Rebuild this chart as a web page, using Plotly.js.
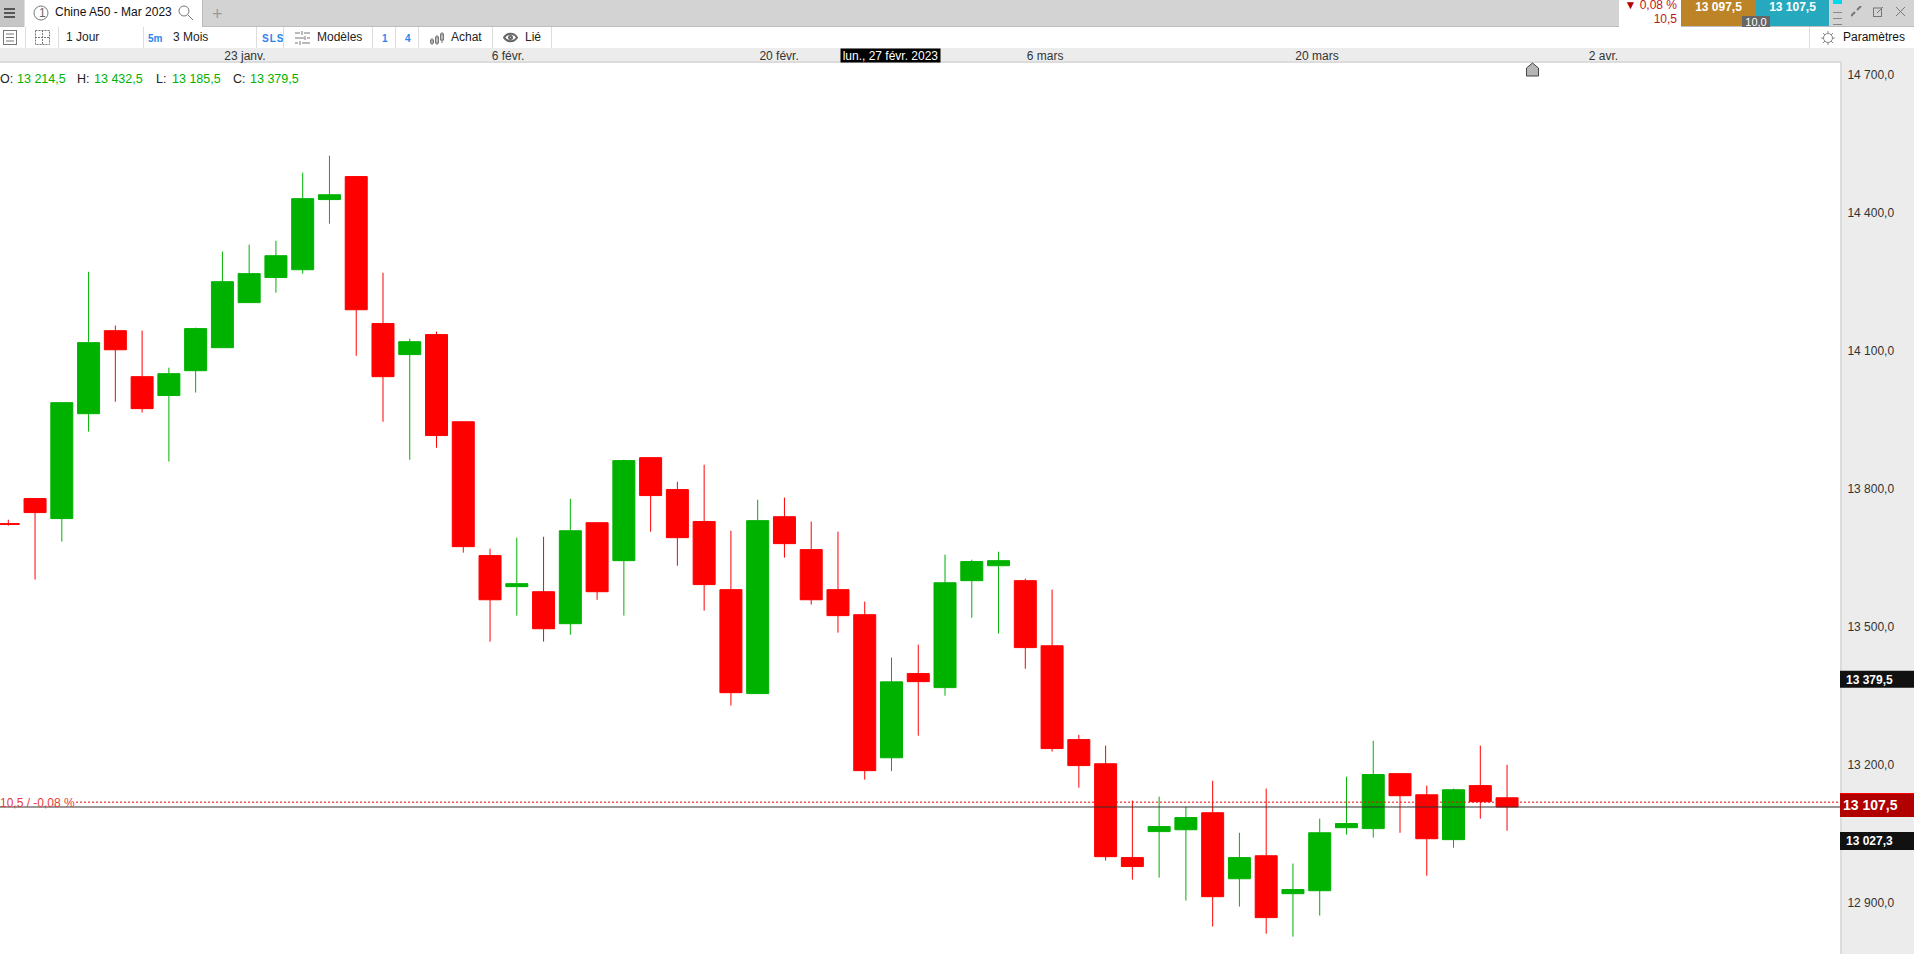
<!DOCTYPE html>
<html>
<head>
<meta charset="utf-8">
<title>Chine A50 - Mar 2023</title>
<script src="https://cdn.plot.ly/plotly-3.0.1.min.js"></script>
<style>
    html, body { margin: 0; padding: 0; background: #fff; overflow: hidden; }
    body { width: 1914px; height: 954px; font: 12px "Liberation Sans", Arial, sans-serif; color: #222; position: relative; }
    #chart1 { position: absolute; left: 0; top: 48px; width: 1914px; height: 906px; }
    .box { position: absolute; }
    .t { position: absolute; white-space: nowrap; line-height: 14px; }
    .sep { position: absolute; top: 27px; width: 1px; height: 21px; background: #ddd; }
    .blue { color: #2a86f0; font-weight: bold; font-size: 10px; }
    svg.i { position: absolute; fill: none; stroke: #777; stroke-width: 1; }
</style>
</head>
<body>
<div class="box" style="left:0;top:0;width:1914px;height:26px;background:#d3d3d3;border-bottom:1px solid #bdbdbd"></div>
<div class="box" style="left:0;top:0;width:24px;height:26px;background:#c6c6c6"></div>
<div class="box" style="left:4px;top:8px;width:11px;height:2px;background:#555;box-shadow:0 4px 0 #555,0 8px 0 #555"></div>
<div class="box" style="left:24px;top:0;width:177px;height:28px;background:#fff;border-right:1px solid #bdbdbd;border-left:1px solid #e0e0e0"></div>
<svg class="i" style="left:33px;top:5px" width="16" height="16"><circle cx="8" cy="8" r="7"/></svg>
<span class="t" style="left:39px;top:6px;color:#666">1</span>
<span class="t" style="left:55px;top:5px;color:#111">Chine A50 - Mar 2023</span>
<svg class="i" style="left:178px;top:5px" width="16" height="16"><circle cx="6" cy="6" r="5"/><path d="M10 10l5 5"/></svg>
<span class="t" style="left:212px;top:4px;color:#999;font-size:18px;line-height:20px">+</span>

<div class="box" style="left:0;top:27px;width:1914px;height:21px;background:#fff;border-bottom:1px solid #ccc"></div>
<svg class="i" style="left:3px;top:30px" width="14" height="15"><rect x=".5" y=".5" width="13" height="14"/><path d="M3 4h8M3 7.5h8M3 11h8"/></svg>
<div class="sep" style="left:25px"></div>
<svg class="i" style="left:35px;top:30px;stroke-dasharray:2 1" width="15" height="15"><rect x=".5" y=".5" width="14" height="14"/><path d="M7.5 0v15M0 7.5h15"/></svg>
<div class="sep" style="left:58px"></div>
<span class="t" style="left:66px;top:30px">1 Jour</span>
<div class="sep" style="left:143px"></div>
<span class="t blue" style="left:148px;top:32px">5m</span>
<span class="t" style="left:173px;top:30px">3 Mois</span>
<div class="sep" style="left:256px"></div>
<span class="t blue" style="left:262px;top:32px;letter-spacing:1px">SLS</span>
<div class="sep" style="left:283px"></div>
<svg class="i" style="left:295px;top:31px" width="15" height="14"><path d="M0 2h5M9 2h6M0 7h9M12 7h3M0 12h3M7 12h8M7 0v4M10 5v4M5 10v4"/></svg>
<span class="t" style="left:317px;top:30px">Modèles</span>
<div class="sep" style="left:372px"></div>
<span class="t blue" style="left:382px;top:32px">1</span>
<div class="sep" style="left:395px"></div>
<span class="t blue" style="left:405px;top:32px">4</span>
<div class="sep" style="left:418px"></div>
<svg class="i" style="left:430px;top:30px" width="15" height="16"><path d="M2 8v7M7 5v10M12 2v11"/><rect x=".5" y="10" width="3" height="3"/><rect x="5.5" y="7" width="3" height="6"/><rect x="10.5" y="4" width="3" height="6"/></svg>
<span class="t" style="left:451px;top:30px">Achat</span>
<div class="sep" style="left:492px"></div>
<svg class="i" style="left:503px;top:32px;stroke:#666;stroke-width:2" width="15" height="11"><path d="M1 5.5c3-5 10-5 13 0c-3 5-10 5-13 0z"/><circle cx="7.5" cy="5.5" r="1.5"/></svg>
<span class="t" style="left:525px;top:30px">Lié</span>
<div class="sep" style="left:551px"></div>

<div class="box" style="left:1619px;top:0;width:62px;height:27px;background:#fff"></div>
<span class="t" style="right:237px;top:-2px;color:#c01818;font-size:12px"><span style="color:#b00000;font-size:12px">▼</span> 0,08 %</span>
<span class="t" style="right:237px;top:12px;color:#c01818">10,5</span>
<div class="box" style="left:1681px;top:0;width:75px;height:26px;background:#bc8426"></div>
<div class="box" style="left:1756px;top:0;width:73px;height:26px;background:#26a9bf"></div>
<span class="t" style="left:1681px;width:75px;text-align:center;top:0;color:#fff;font-weight:bold">13 097,5</span>
<span class="t" style="left:1756px;width:73px;text-align:center;top:0;color:#fff;font-weight:bold">13 107,5</span>
<div class="box" style="left:1742px;top:16px;width:28px;height:11px;background:#666;color:#fff;font-size:11px;line-height:12px;text-align:center">10,0</div>
<div class="box" style="left:1833px;top:0;width:9px;height:4px;background:#00d8f0"></div>
<div class="box" style="left:1833px;top:12px;width:9px;height:1px;background:#888;box-shadow:0 6px 0 #888,0 12px 0 #888"></div>
<svg class="i" style="left:1851px;top:6px" width="11" height="11"><path d="M0 10l4-4M10 0l-4 4" stroke-width="2"/></svg>
<svg class="i" style="left:1873px;top:6px" width="11" height="11"><rect x=".5" y="2" width="8" height="8.5"/><path d="M4 7l6-6"/></svg>
<svg class="i" style="left:1895px;top:6px" width="11" height="11"><path d="M1 1l9 9M10 1l-9 9"/></svg>
<div class="sep" style="left:1809px"></div>
<svg class="i" style="left:1821px;top:31px;stroke:#888" width="14" height="14"><circle cx="7" cy="7" r="4.5"/><path d="M7 0v2.5M7 11.5v2.500M0 7h2.500M11.500 7h2.500M2 2l2 2M10 10l2 2M2 12l2-2M10 4l2-2"/></svg>
<span class="t" style="left:1843px;top:30px;color:#111">Paramètres</span>

<div id="chart1"></div>

<script>
var sessions = [0,1,2,3,4,5,6,7,8,9,10,11,12,13,14,15,16,17,18,19,20,21,22,23,24,25,26,27,28,
    29,30,31,32,33,34,35,36,37,38,39,40,41,42,43,44,45,46,47,48,49,50,51,52,53,54,55,56];
var opens = [13723.5,13778,13734.5,13962.5,14143,14043,14002,14056,14106,14204,14258.5,14275.5,14428,14478,14158.5,
    14091,14134.5,13945,13654,13586.5,13575.5,13506,13725.5,13643,13867,13797.5,13728,13580,13354,13738.5,
    13667,13580,13525.5,13214.5,13397.5,13367,13599.5,13632,13599.5,13458,13254,13201.5,12997.5,13054,13058,
    13095,12951.5,13001.5,12919,12925.5,13062.5,13060.5,13180,13134,13036.5,13154,13127.5];
var highs = [13732,13778,13986.5,14271,14154,14143,14062.5,14149.5,14315,14330,14338.5,14486.5,14523.5,14478,14269,
    14125.5,14141,13945,13669,13693,13695,13777.5,13725.5,13862.5,13867,13814.5,13851.5,13708,13775.5,13780,
    13728,13706,13554,13432.5,13460.5,13656,13645,13662.5,13604,13580,13264.5,13241,13121.5,13130,13108,
    13164.5,13051.5,13147.5,12984.5,13082,13173.5,13251.5,13180,13154,13147.5,13241,13199.5];
var lows = [13719,13602,13684.5,13923.5,13988.5,13965,13858.5,14008.5,14106,14204,14225.5,14267,14375.5,14088.5,13945,
    13862.5,13888.5,13660.5,13467,13523.5,13467,13482,13558,13523.5,13706,13632,13534.5,13328,13354,13649.5,
    13547.5,13486.5,13167,13185.5,13262.5,13349.5,13519,13484.5,13408,13228,13149.5,12991,12949.5,12954,12904,
    12847.5,12891,12832,12825.5,12871.5,13047.5,13041,13051.5,12958,13019,13082,13056];
var closes = [13722,13747.5,13986.5,14117,14101.5,13973.5,14049.5,14147.5,14249.5,14267,14306,14430,14438.5,14188.5,14043,
    14119,13915,13673.5,13558,13593,13495,13708,13575.5,13860.5,13784.5,13693,13591,13356,13730,13680,
    13558,13523.5,13186.5,13379.5,13380,13595,13641,13643,13454,13234.5,13197.5,12999.5,12978,13065,13084.5,
    12912.5,12997.5,12867,12928,13051.5,13071.5,13178,13132,13038.5,13145,13119,13107.5];

var priceTicks = [14700,14400,14100,13800,13500,13200,12900];
var priceLabels = ["14 700,0","14 400,0","14 100,0","13 800,0","13 500,0","13 200,0","12 900,0"];
var dateTicks = [8.84,18.67,28.8,38.74,48.9,59.6];
var dateLabels = ["23 janv.","6 févr.","20 févr.","6 mars","20 mars","2 avr."];

var lastPrice = 13107.5;
var prevClose = 13118;
var hoverClose = 13379.5;
var crossPrice = 13027.3;

var GREEN = "#00b200", RED = "#ff0000";
var FONT = "Liberation Sans, Arial, sans-serif";
var PLOT_W = 1840;

var trace = {
    type: "candlestick",
    x: sessions,
    open: opens,
    high: highs,
    low: lows,
    close: closes,
    whiskerwidth: 0,
    increasing: {line: {color: GREEN, width: 1}, fillcolor: GREEN},
    decreasing: {line: {color: RED, width: 1}, fillcolor: RED},
    hoverinfo: "none",
    showlegend: false
};

// coloured price tags in the right hand strip
function tag(price, fill, y0, y1) {
    return {
        type: "rect", layer: "above",
        xref: "paper", xsizemode: "pixel", xanchor: 1, x0: 0, x1: 74,
        yref: "y", ysizemode: "pixel", yanchor: price, y0: y0, y1: y1,
        fillcolor: fill, line: {width: 0}
    };
}
function tagText(price, text, size, yshift) {
    return {
        xref: "paper", x: 1, xanchor: "left", xshift: size > 12 ? 1 : 4,
        yref: "y", y: price, yanchor: "middle", yshift: yshift,
        text: "<b>" + text + "</b>", showarrow: false,
        font: {family: FONT, size: size, color: "#fff"}
    };
}

var shapes = [
    {type: "line", layer: "above", xref: "paper", x0: 76 / PLOT_W, x1: 1, yref: "y", y0: prevClose, y1: prevClose,
        line: {color: RED, width: 1, dash: "2px 2px"}},
    {type: "line", layer: "above", xref: "paper", x0: 0, x1: 1, yref: "y", y0: lastPrice, y1: lastPrice,
        line: {color: "#333", width: 1}},
    tag(hoverClose, "#111", -6, 11),
    tag(lastPrice, "#b00000", -10, 14),
    tag(lastPrice, "#ff0000", 13, 14),
    tag(crossPrice, "#111", -6, 12),
    // marker above the next session
    {type: "path", layer: "above", xref: "x", xsizemode: "pixel", xanchor: 56.95, yref: "paper", ysizemode: "pixel", yanchor: 1,
        path: "M -6 -13 L -6 -5 L 0 0 L 6 -5 L 6 -13 Z", fillcolor: "#b5b5b5", line: {color: "#444", width: 1}}
];

var annotations = [
    tagText(hoverClose, "13 379,5", 12, 2),
    tagText(lastPrice, "13 107,5", 14, 2),
    tagText(crossPrice, "13 027,3", 12, 3),
    {xref: "x", x: 33, xshift: -1, yref: "paper", y: 1, yanchor: "bottom", yshift: 0, width: 99, height: 13, borderpad: 0,
        text: "lun., 27 févr. 2023", showarrow: false, bgcolor: "#000", font: {family: FONT, size: 12, color: "#fff"}},
    {xref: "paper", x: 0, xanchor: "left", xshift: -2, yref: "y", y: prevClose, yanchor: "middle", yshift: -1,
        text: "10,5 / -0,08 %", showarrow: false, font: {family: FONT, size: 12, color: "#e83a3a"}}
];

// OHLC read-out of the session under the crosshair
var readout = [["O:", 0, "#222"], ["13 214,5", 17, GREEN], ["H:", 77, "#222"], ["13 432,5", 94, GREEN],
    ["L:", 156, "#222"], ["13 185,5", 172, GREEN], ["C:", 233, "#222"], ["13 379,5", 250, GREEN]];
readout.forEach(function(r) {
    annotations.push({
        xref: "paper", x: r[1] / PLOT_W, xanchor: "left", xshift: -2,
        yref: "paper", y: 1 - 16 / 891, yanchor: "middle",
        text: r[0], showarrow: false, font: {family: FONT, size: 12.5, color: r[2]}
    });
});

var layout = {
    width: 1914,
    height: 906,
    margin: {l: 0, r: 74, t: 15, b: 0, pad: 0},
    paper_bgcolor: "#ececec",
    plot_bgcolor: "#ffffff",
    boxgap: 0.178,
    boxgroupgap: 0,
    showlegend: false,
    hovermode: false,
    xaxis: {
        type: "linear",
        side: "top",
        range: [-0.31, 68.44],
        rangeslider: {visible: false},
        tickmode: "array",
        tickvals: dateTicks,
        ticktext: dateLabels,
        ticklen: 0,
        ticklabelstandoff: -4,
        tickfont: {family: FONT, size: 12, color: "#333"},
        showgrid: false,
        zeroline: false,
        showline: true,
        linecolor: "#dcdcdc",
        linewidth: 2
    },
    yaxis: {
        side: "right",
        range: [12787.9, 14724.9],
        tickmode: "array",
        tickvals: priceTicks,
        ticktext: priceLabels,
        ticklen: 3,
        tickcolor: "rgba(0,0,0,0)",
        tickfont: {family: FONT, size: 12, color: "#333"},
        showgrid: false,
        zeroline: false,
        showline: true,
        linecolor: "#dcdcdc",
        linewidth: 2
    },
    shapes: shapes,
    annotations: annotations
};

Plotly.newPlot("chart1", [trace], layout, {displayModeBar: false, staticPlot: true});
</script>
</body>
</html>
